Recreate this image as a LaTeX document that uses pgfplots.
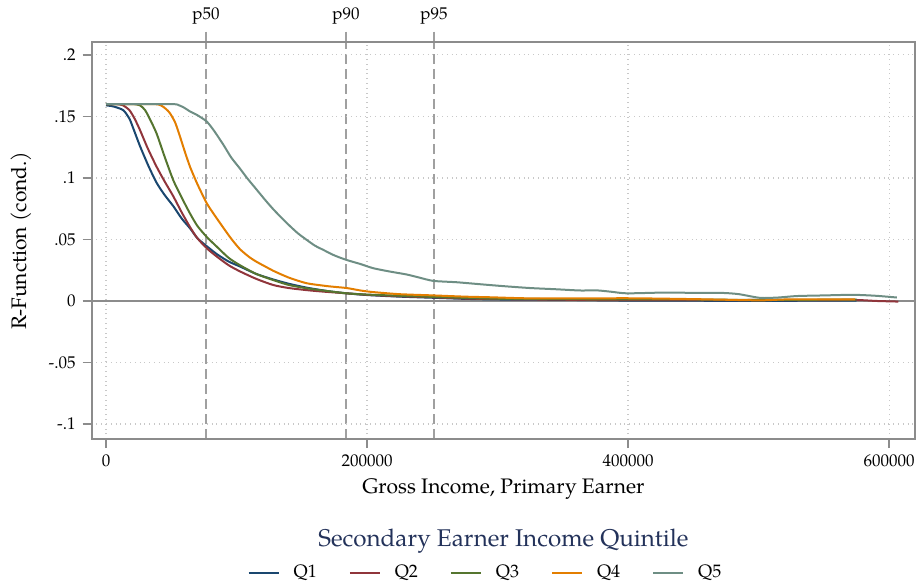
\documentclass[border=0pt]{standalone}
\usepackage{fontspec}
\setmainfont{texgyrepagella}[Extension=.otf,UprightFont=*-regular,BoldFont=*-bold,ItalicFont=*-italic,BoldItalicFont=*-bolditalic]
\usepackage{pgfplots}
\pgfplotsset{compat=1.18}
\definecolor{q1}{RGB}{26,71,111}
\definecolor{q2}{RGB}{144,53,59}
\definecolor{q3}{RGB}{85,117,47}
\definecolor{q4}{RGB}{227,126,0}
\definecolor{q5}{RGB}{110,142,132}
\definecolor{framegray}{RGB}{140,140,140}
\definecolor{gridgray}{RGB}{200,200,200}
\definecolor{dashgray}{RGB}{160,160,160}
\definecolor{titlenavy}{RGB}{35,50,90}

\begin{document}
\begin{tikzpicture}
% top axis: percentile markers
\begin{axis}[scale only axis, width=411.7pt, height=198.7pt,
    xmin=-10960, xmax=619900, ymin=-0.1122, ymax=0.2108,
    axis x line*=top, axis y line=none,
    axis line style={draw=framegray, line width=1pt},
    xtick={76600,183900,251300}, xticklabels={p50,p90,p95},
    scaled x ticks=false, scaled y ticks=false,
    tick align=outside, major tick length=5pt,
    tick style={draw=dashgray, line width=0.8pt},
    xmajorgrids,
    major grid style={draw=dashgray, dash pattern=on 5pt off 2.5pt, line width=0.8pt},
    ticklabel style={font=\fontsize{8.5}{10}\selectfont}]
\end{axis}
\begin{axis}[scale only axis, width=411.7pt, height=198.7pt,
    xmin=-10960, xmax=619900, ymin=-0.1122, ymax=0.2108,
    axis line style={draw=framegray, line width=1pt},
    xtick={0,200000,400000,600000}, xticklabels={0,200000,400000,600000},
    ytick={-0.1,-0.05,0,0.05,0.1,0.15,0.2},
    yticklabels={-.1,-.05,0,.05,.1,.15,.2},
    scaled x ticks=false, scaled y ticks=false,
    tick align=outside, xtick pos=bottom, ytick pos=left,
    major tick length=4.5pt,
    tick style={draw=framegray, line width=0.8pt},
    grid=major,
    major grid style={draw=gridgray, dotted, line width=0.6pt},
    ticklabel style={font=\fontsize{8.5}{10}\selectfont},
    xlabel={Gross Income, Primary Earner},
    ylabel={R-Function (cond.)},
    label style={font=\fontsize{10.5}{12}\selectfont},
    xlabel style={at={(axis description cs:0.5,-0.1258)}, anchor=center},
    ylabel style={at={(axis description cs:-0.086,0.5)}, anchor=center},
    legend columns=-1,
    legend style={at={(axis description cs:0.4795,-0.3372)}, anchor=center,
        draw=none, fill=none, font=\fontsize{9}{10}\selectfont,
        /tikz/every odd column/.append style={column sep=5pt},
        /tikz/every even column/.append style={column sep=14pt}},
    legend image code/.code={\draw[#1] (0pt,0pt) -- (15pt,0pt);},
    every axis plot/.append style={line width=1pt, smooth, tension=0.4}]

\addplot[draw=framegray, forget plot] coordinates {(-10960,0)(619900,0)};

\addplot[q1] coordinates {(0,0.159)(6000,0.158)(13300,0.155)(18000,0.148)(21000,0.140)(26000,0.126)(32400,0.110)(38800,0.096)(45000,0.086)(51600,0.077)(58000,0.067)(64400,0.059)(70000,0.051)(77200,0.0445)(85000,0.038)(94000,0.032)(102700,0.028)(115000,0.022)(128000,0.0175)(140000,0.014)(153800,0.0108)(170000,0.008)(184400,0.0062)(200000,0.0048)(225000,0.0035)(250000,0.0026)(275000,0.0017)(300000,0.0012)(350000,0.0009)(400000,0.0003)(450000,0.0002)(500000,0.0)(550000,0.0003)(575000,0.0003)};
\addlegendentry{Q1}
\addplot[q2] coordinates {(0,0.160)(8000,0.160)(13000,0.159)(18000,0.155)(22000,0.148)(26000,0.139)(32000,0.124)(38800,0.109)(45000,0.097)(51600,0.085)(58000,0.072)(64400,0.060)(70000,0.051)(77200,0.0428)(85000,0.036)(94000,0.029)(102700,0.024)(115000,0.018)(128000,0.013)(140000,0.0105)(153800,0.0088)(166300,0.0076)(184400,0.0062)(200000,0.005)(225000,0.0038)(250000,0.003)(275000,0.002)(300000,0.0015)(350000,0.001)(400000,0.0006)(450000,0.0006)(500000,0.0008)(550000,0.0007)(575000,0.0008)(590000,0.0)(607000,-0.0005)};
\addlegendentry{Q2}
\addplot[q3] coordinates {(0,0.160)(20000,0.160)(26000,0.159)(30000,0.155)(34000,0.147)(38800,0.136)(45000,0.117)(51600,0.098)(58000,0.084)(64400,0.071)(70000,0.061)(77200,0.052)(85000,0.044)(94000,0.035)(102700,0.029)(115000,0.022)(128000,0.017)(140000,0.013)(153800,0.0103)(170000,0.008)(184400,0.0062)(200000,0.0052)(225000,0.0042)(250000,0.0033)(275000,0.0025)(300000,0.0018)(350000,0.0015)(400000,0.0012)(450000,0.0012)(500000,0.0008)(550000,0.001)(575000,0.001)};
\addlegendentry{Q3}
\addplot[q4] coordinates {(0,0.160)(36000,0.160)(42000,0.159)(46000,0.156)(49000,0.1526)(53000,0.145)(56700,0.1336)(60500,0.121)(64400,0.109)(70000,0.095)(77200,0.0794)(83000,0.070)(89900,0.0595)(96000,0.0505)(102700,0.042)(110000,0.0355)(115400,0.0318)(122000,0.028)(128200,0.0245)(140000,0.019)(153800,0.0144)(170000,0.012)(184400,0.0105)(195000,0.0085)(204800,0.0072)(225000,0.0055)(250800,0.0045)(275000,0.0035)(294300,0.003)(320000,0.0022)(350000,0.002)(400000,0.0022)(450000,0.0015)(500000,0.0005)(520000,0.0012)(550000,0.0012)(574000,0.0013)};
\addlegendentry{Q4}
\addplot[q5] coordinates {(0,0.160)(50000,0.160)(56000,0.159)(60000,0.157)(64400,0.154)(70000,0.151)(77200,0.1458)(83000,0.138)(89900,0.127)(96000,0.1165)(102700,0.1075)(108000,0.100)(115400,0.0905)(122000,0.082)(128200,0.0745)(135000,0.067)(141000,0.0608)(147000,0.055)(153800,0.0496)(160000,0.045)(166500,0.0415)(175000,0.037)(184400,0.0333)(195000,0.030)(204800,0.0266)(217000,0.024)(230400,0.0215)(240000,0.019)(250800,0.0163)(268800,0.0152)(286600,0.0136)(305000,0.012)(324900,0.0105)(345000,0.0095)(363200,0.0085)(376000,0.0086)(387000,0.0075)(399000,0.0062)(426800,0.0068)(450000,0.0066)(472800,0.0065)(485000,0.0055)(501200,0.0025)(515000,0.0028)(529300,0.004)(550000,0.0045)(572400,0.005)(590000,0.0042)(605900,0.0028)};
\addlegendentry{Q5}

\coordinate (lt) at (axis description cs:0.5,-0.2567);
\coordinate (sw) at (rel axis cs:0,0);
\end{axis}
\node[font=\fontsize{12.1}{14}\selectfont, text=titlenavy] at (lt) {Secondary Earner Income Quintile};
\pgfresetboundingbox
\path (sw) ++(-45.85pt,-72.5pt) rectangle ++(458.5pt,292pt);
\end{tikzpicture}
\end{document}
